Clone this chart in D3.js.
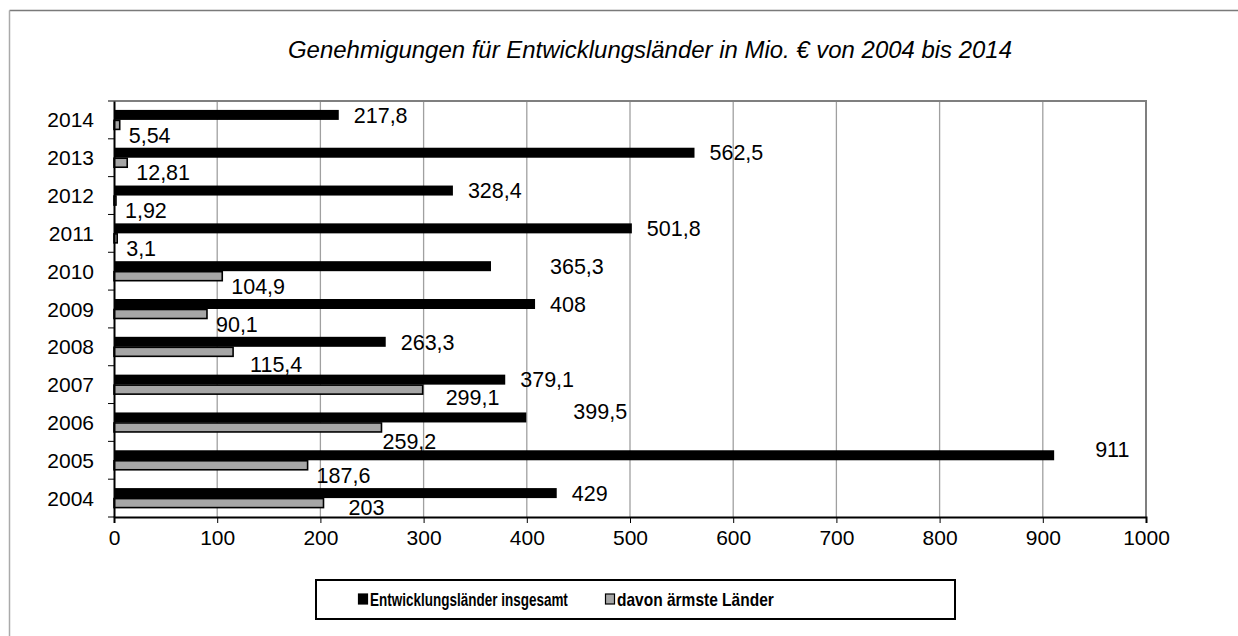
<!DOCTYPE html>
<html>
<head>
<meta charset="utf-8">
<script src="https://cdn.jsdelivr.net/npm/d3@7"></script>
<style>
  body { margin: 0; background: #fff; }
  text { font-family: "Liberation Sans", Arial, sans-serif; }
</style>
</head>
<body>
<svg width="1238" height="636"></svg>
<script>
const years = ['2014', '2013', '2012', '2011', '2010', '2009', '2008', '2007', '2006', '2005', '2004'];
const total = [217.8, 562.5, 328.4, 501.8, 365.3, 408, 263.3, 379.1, 399.5, 911, 429];
const poorest = [5.54, 12.81, 1.92, 3.1, 104.9, 90.1, 115.4, 299.1, 259.2, 187.6, 203];
const xTicks = [0, 100, 200, 300, 400, 500, 600, 700, 800, 900, 1000];
const seriesNames = ['Entwicklungsländer insgesamt', 'davon ärmste Länder'];

// labels in the original were dragged around by hand, these few get a nudge
const nudge = {
  '2010-0': [44, 0], '2006-0': [32, -6], '2005-0': [26, -6],
  '2007-1': [14, -2], '2004-1': [16, -6], '2008-1': [8, 2], '2006-1': [-8, 4]
};

const svg = d3.select('svg');
const m = { left: 114, right: 1146, top: 101, bottom: 517 };
const font = '"Liberation Sans", Arial, sans-serif';

const x = d3.scaleLinear().domain([0, 1000]).range([m.left, m.right]);
const y = d3.scaleBand().domain(years).range([m.top, m.bottom]);
const bw = y.bandwidth();
const y1 = d3.scaleBand().domain([0, 1]).range([bw / 2 - 10, bw / 2 + 10]);

const fmt = v => String(v).replace('.', ',');

// outer frame
svg.append('line')
  .attr('x1', 9.5).attr('x2', 1238).attr('y1', 10.5).attr('y2', 10.5)
  .attr('stroke', '#7a7a7a').attr('stroke-width', 1.5);
svg.append('line')
  .attr('x1', 9.5).attr('x2', 9.5).attr('y1', 10.5).attr('y2', 636)
  .attr('stroke', '#aaaaaa').attr('stroke-width', 1.5);

svg.append('text')
  .attr('x', 650).attr('y', 58)
  .attr('text-anchor', 'middle')
  .attr('textLength', 724).attr('lengthAdjust', 'spacingAndGlyphs')
  .style('font-size', '23px').style('font-style', 'italic')
  .text('Genehmigungen für Entwicklungsländer in Mio. € von 2004 bis 2014');

// grid
svg.append('g').selectAll('line')
  .data(xTicks.slice(1))
  .enter().append('line')
  .attr('x1', d => x(d)).attr('x2', d => x(d))
  .attr('y1', m.top).attr('y2', m.bottom)
  .attr('stroke', '#a0a0a0').attr('stroke-width', 1.3);

svg.append('path')
  .attr('d', `M${m.left},${m.top}H${m.right}V${m.bottom}`)
  .attr('fill', 'none').attr('stroke', '#7f7f7f').attr('stroke-width', 2);

// bars
const rows = years.map((yr, i) => ({ yr, vals: [total[i], poorest[i]] }));
const g = svg.append('g').selectAll('g')
  .data(rows)
  .enter().append('g')
  .attr('transform', d => `translate(0,${y(d.yr)})`);

g.selectAll('rect')
  .data(d => d.vals.map((v, k) => ({ v, k, yr: d.yr })))
  .enter().append('rect')
  .attr('x', x(0))
  .attr('y', d => y1(d.k) + (d.k ? 0.5 : 0))
  .attr('width', d => x(d.v) - x(0))
  .attr('height', d => y1.bandwidth() - (d.k ? 1 : 0))
  .attr('fill', d => d.k ? '#a6a6a6' : '#000')
  .attr('stroke', d => d.k ? '#000' : 'none')
  .attr('stroke-width', 1.6);

g.selectAll('text')
  .data(d => d.vals.map((v, k) => ({ v, k, yr: d.yr })))
  .enter().append('text')
  .attr('x', d => x(d.v) + (d.k ? 9 : 15) + (nudge[d.yr + '-' + d.k] || [0, 0])[0])
  .attr('y', d => y1(d.k) + y1.bandwidth() / 2 + (d.k ? 10 : 0) + (nudge[d.yr + '-' + d.k] || [0, 0])[1])
  .attr('dy', '0.36em')
  .style('font-size', '21.5px')
  .text(d => fmt(d.v));

// axes
const xAxis = svg.append('g')
  .attr('transform', `translate(0,${m.bottom})`)
  .call(d3.axisBottom(x).tickValues(xTicks).tickSize(6).tickFormat(d => d));
xAxis.select('.domain').attr('stroke', '#000').attr('stroke-width', 2);
xAxis.selectAll('.tick line').attr('stroke', '#000');
xAxis.selectAll('.tick text')
  .attr('y', 13).attr('dy', '0.71em')
  .style('font-size', '21px').style('font-family', font);

const yAxis = svg.append('g')
  .attr('transform', `translate(${m.left},0)`)
  .call(d3.axisLeft(y).tickSize(0).tickPadding(20));
yAxis.select('.domain').attr('stroke', '#000').attr('stroke-width', 2);
yAxis.selectAll('.tick text')
  .attr('dy', '0.36em')
  .style('font-size', '21px').style('font-family', font);

svg.append('g').selectAll('line')
  .data(years.concat(['end']))
  .enter().append('line')
  .attr('x1', m.left - 6).attr('x2', m.left)
  .attr('y1', (d, i) => m.top + i * bw).attr('y2', (d, i) => m.top + i * bw)
  .attr('stroke', '#000').attr('stroke-width', 1);

// legend
const lg = svg.append('g');
lg.append('rect')
  .attr('x', 316).attr('y', 580).attr('width', 639).attr('height', 39)
  .attr('fill', '#fff').attr('stroke', '#000').attr('stroke-width', 2);

// the original legend font is a narrow one, squeeze it horizontally
const legendWidths = [198, 157];
const items = lg.selectAll('g')
  .data(seriesNames)
  .enter().append('g')
  .attr('transform', (d, i) => `translate(${i ? 605 : 358},599)`);
items.append('rect')
  .attr('x', 0.5).attr('y', -5)
  .attr('width', 9).attr('height', 10)
  .attr('fill', (d, i) => i ? '#a6a6a6' : '#000')
  .attr('stroke', '#000').attr('stroke-width', 1.2);
items.append('text')
  .attr('dy', '0.36em')
  .style('font-size', '19px').style('font-weight', 'bold')
  .text(d => d)
  .attr('transform', function(d, i) {
    const s = legendWidths[i] / this.getComputedTextLength();
    return `translate(12,0) scale(${s},1)`;
  });
</script>
</body>
</html>
